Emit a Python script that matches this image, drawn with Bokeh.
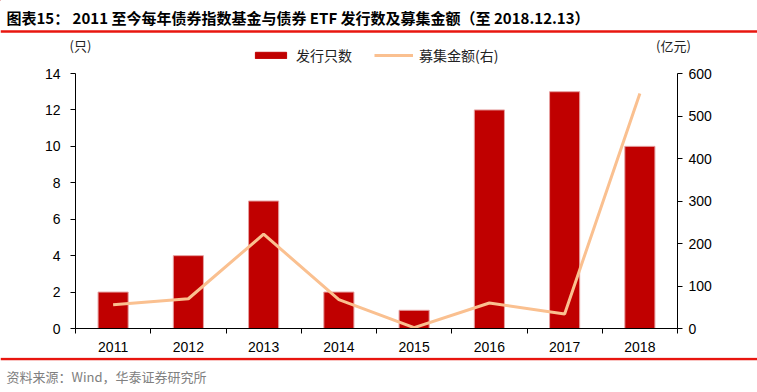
from bokeh.plotting import figure
from bokeh.models import Range1d, LinearAxis, FixedTicker, Span, ColumnDataSource
from bokeh.layouts import column
from bokeh.core.properties import value
from bokeh.embed import file_html
from bokeh.resources import INLINE

years = ["2011", "2012", "2013", "2014", "2015", "2016", "2017", "2018"]
counts = [2, 4, 7, 2, 1, 12, 13, 10]
amounts = [56, 70, 222, 68, 2, 60, 34, 553]
left_ticks = [0, 2, 4, 6, 8, 10, 12, 14]
right_ticks = [0, 100, 200, 300, 400, 500, 600]

W = 757
HEAD_H = 66
FOOT_TOP = 357
TOTAL_H = 392
MAIN_H = FOOT_TOP - HEAD_H
FOOT_H = TOTAL_H - FOOT_TOP
FL, FR, FT, FB = 75, 677, 73, 328   # frame box in page px

cjk = "Noto Sans CJK SC"
tick_font = "Liberation Sans"
fs = "14px"
RED = "#E8160F"
BAR = "#C00000"
LINE = "#FAC090"
n = len(years)
xs = [i + 0.5 for i in range(n)]
src = ColumnDataSource(dict(x=xs, counts=counts, amounts=amounts))


def blank(h):
    f = figure(width=W, height=h, output_backend="svg", toolbar_location=None,
               x_range=Range1d(0, W), y_range=Range1d(h, 0),
               min_border=0, x_axis_type=None, y_axis_type=None)
    f.outline_line_color = None
    f.grid.visible = False
    f.border_fill_color = "white"
    f.frame_align = False
    return f

# ---------- header ----------
head = blank(HEAD_H)
head.text(x=[6], y=[17], text=["图表15： 2011 至今每年债券指数基金与债券 ETF 发行数及募集金额（至 2018.12.13）"],
          text_font=value(cjk), text_font_style="bold", text_font_size="15px",
          text_color="black", text_baseline="middle", text_align="left")
head.add_layout(Span(location=31, dimension="width", line_color=RED, line_width=2.5))
head.text(x=[80, 673], y=[45, 45], text=["(只)", "(亿元)"],
          text_font=value(cjk), text_font_size="13px", text_color="#222222",
          text_baseline="middle", text_align="center")
# off-screen dummy renderers carry the legend swatches
head.vbar(x=[-100], top=[-100], bottom=[-101], width=1, fill_color=BAR, line_color=BAR,
          legend_label="发行只数")
head.line(x=[-100, -99], y=[-100, -100], line_color=LINE, line_width=3,
          legend_label="募集金额(右)")
lg = head.legend[0]
lg.orientation = "horizontal"
lg.location = (251, 1)
lg.border_line_color = None
lg.background_fill_alpha = 0
lg.padding = 0
lg.margin = 0
lg.spacing = 22
lg.glyph_width = 39
lg.glyph_height = 8
lg.label_standoff = 6
lg.label_text_font = cjk
lg.label_text_font_size = "14px"
lg.label_text_color = "#222222"

# ---------- main chart ----------
p = figure(width=W, height=MAIN_H, output_backend="svg", toolbar_location=None,
           x_range=Range1d(0, n), y_range=Range1d(0, 14),
           min_border_left=FL, min_border_right=W - FR,
           min_border_top=FT - HEAD_H, min_border_bottom=FOOT_TOP - FB,
           x_axis_type=None, y_axis_type=None)
p.outline_line_color = None
p.grid.visible = False
p.border_fill_color = "white"
p.frame_align = False
p.extra_y_ranges = {"amt": Range1d(0, 600)}

xax = LinearAxis(ticker=FixedTicker(ticks=xs, minor_ticks=list(range(n + 1))))
xax.major_label_overrides = {x: y for x, y in zip(xs, years)}
xax.major_tick_line_color = None
xax.minor_tick_in = 0
xax.minor_tick_out = 5
xax.minor_tick_line_color = "black"
xax.axis_line_color = "black"
xax.major_label_text_font = tick_font
xax.major_label_text_font_size = fs
xax.major_label_text_color = "black"
xax.major_label_standoff = 7
p.add_layout(xax, "below")

lax = LinearAxis(ticker=FixedTicker(ticks=left_ticks, minor_ticks=[]))
lax.major_tick_in = 0
lax.major_tick_out = 5
lax.axis_line_color = "black"
lax.major_tick_line_color = "black"
lax.major_label_text_font = tick_font
lax.major_label_text_font_size = fs
lax.major_label_text_color = "black"
lax.major_label_standoff = 10
p.add_layout(lax, "left")

rax = LinearAxis(y_range_name="amt", ticker=FixedTicker(ticks=right_ticks, minor_ticks=[]))
rax.major_tick_in = 0
rax.major_tick_out = 5
rax.axis_line_color = "black"
rax.major_tick_line_color = "black"
rax.major_label_text_font = tick_font
rax.major_label_text_font_size = fs
rax.major_label_text_color = "black"
rax.major_label_standoff = 6
p.add_layout(rax, "right")

p.vbar(x="x", top="counts", width=0.4, bottom=0, source=src,
       fill_color=BAR, line_color="#E6A0A0", line_width=1)
p.line(x="x", y="amounts", source=src, y_range_name="amt",
       line_color=LINE, line_width=3)

# ---------- footer ----------
foot = blank(FOOT_H)
foot.add_layout(Span(location=1.5, dimension="width", line_color=RED, line_width=2.5))
foot.text(x=[6], y=[19], text=["资料来源：Wind，华泰证券研究所"],
          text_font=value(cjk), text_font_size="13px", text_color="#808080",
          text_baseline="middle", text_align="left")

layout = column(head, p, foot, spacing=0)
open("out.html", "w").write(file_html(layout, INLINE))
